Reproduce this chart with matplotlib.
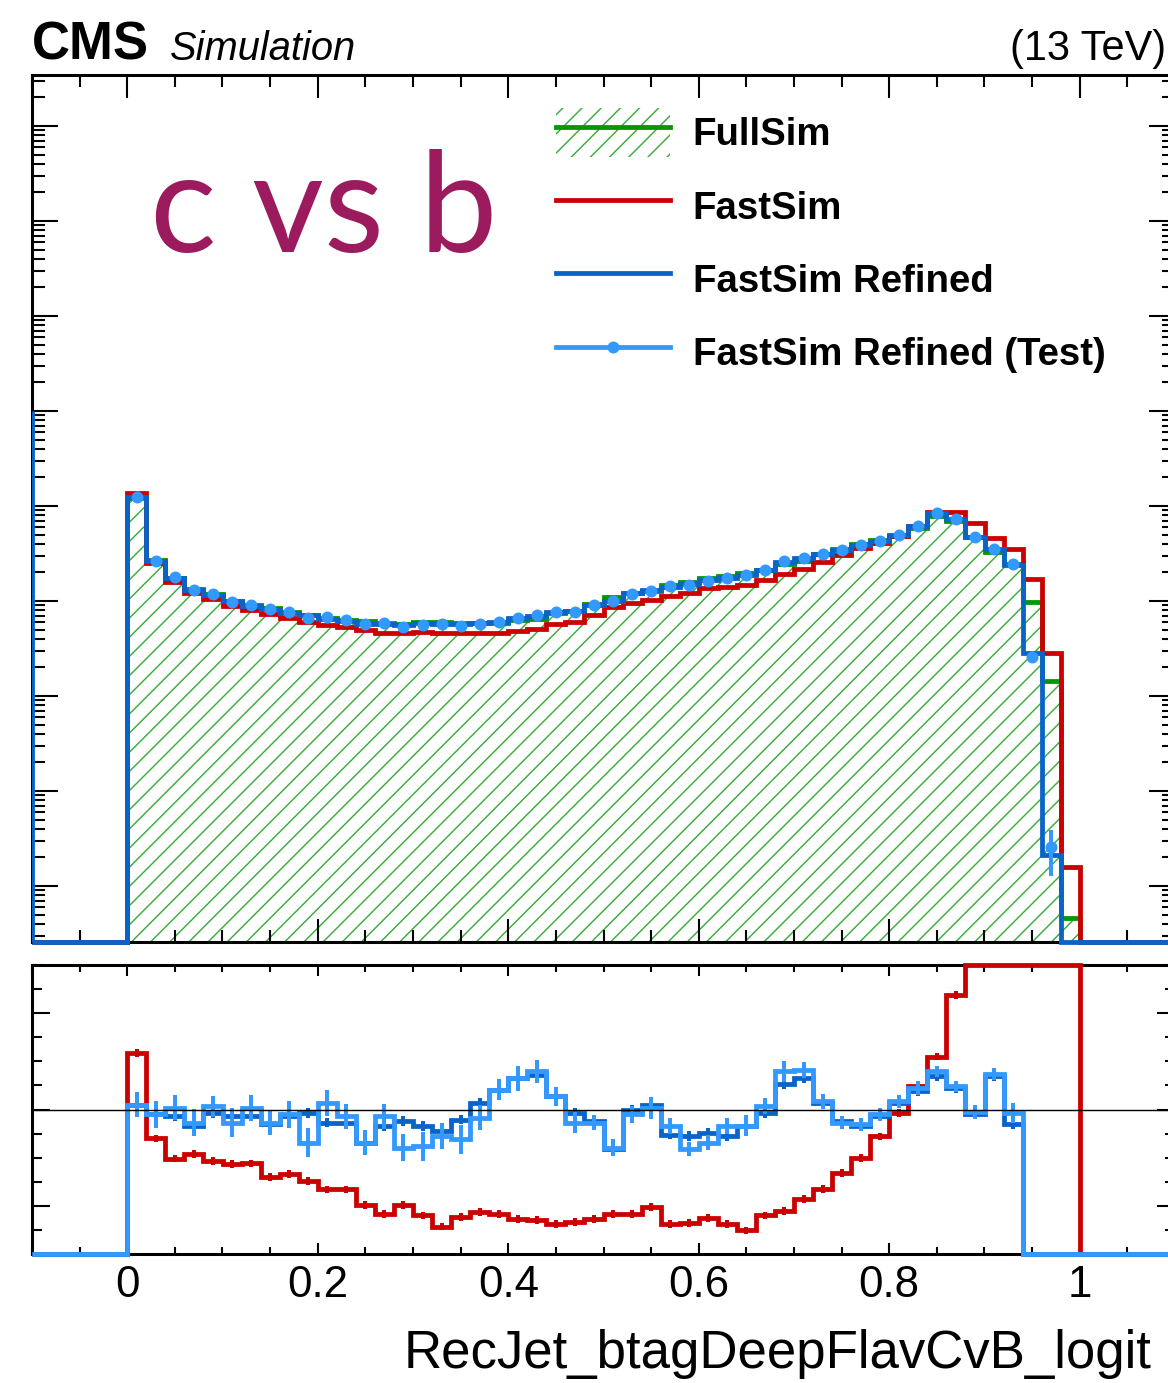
import numpy as np
import matplotlib
matplotlib.use("Agg")
import matplotlib.pyplot as plt
from matplotlib.lines import Line2D
from matplotlib.patches import Patch
from matplotlib.legend_handler import HandlerTuple
from matplotlib.ticker import MultipleLocator, LogLocator, NullFormatter, FuncFormatter

W, H, DPI = 1168, 1383, 115

plt.rcParams["font.family"] = ["Liberation Sans", "DejaVu Sans"]
plt.rcParams["hatch.linewidth"] = 0.9

# ---------------------------------------------------------------- data
# 0.02-wide bins over [0, 1]; the axis runs from -0.1 to 1.1
x_lo, x_hi = -0.1, 1.1
n_pad = 5                     # empty bins on each side of [0, 1]

# FullSim normalised yields per bin
fullsim = [1.229, 0.2676, 0.1763, 0.1338, 0.1176, 0.1007, 0.0905, 0.0848, 0.0766, 0.0712,
           0.0670, 0.0639, 0.0617, 0.0592, 0.0580, 0.0601, 0.0604, 0.0588, 0.0581, 0.0583,
           0.0625, 0.0654, 0.0751, 0.0790, 0.0923, 0.1096, 0.1208, 0.1284, 0.1481, 0.1600,
           0.1754, 0.1829, 0.1966, 0.2130, 0.2433, 0.2650, 0.3101, 0.3510, 0.3981, 0.4354,
           0.4868, 0.5867, 0.7847, 0.6986, 0.4718, 0.3280, 0.2451, 0.0983, 0.0145, 4.64e-5]

# ratios to FullSim
ratio_fastsim = [1.118, 0.940, 0.898, 0.907, 0.893, 0.887, 0.888, 0.860, 0.866, 0.851,
                 0.834, 0.834, 0.802, 0.783, 0.801, 0.780, 0.757, 0.777, 0.787, 0.783,
                 0.773, 0.770, 0.763, 0.766, 0.772, 0.783, 0.783, 0.798, 0.763, 0.764,
                 0.775, 0.763, 0.749, 0.780, 0.790, 0.814, 0.835, 0.868, 0.900, 0.944,
                 0.993, 1.049, 1.110, 1.237, 1.40, 1.39, 1.44, 1.72, 1.97, 3.44]
ratio_refined = [1.010, 0.990, 0.986, 0.966, 0.993, 0.986, 0.986, 0.969, 0.986, 0.993,
                 0.973, 0.973, 0.931, 0.966, 0.976, 0.966, 0.955, 0.979, 1.014, 1.041,
                 1.065, 1.072, 1.027, 0.993, 0.976, 0.918, 1.000, 1.010, 0.948, 0.945,
                 0.952, 0.945, 0.966, 0.993, 1.052, 1.065, 1.014, 0.976, 0.966, 0.986,
                 1.014, 1.038, 1.069, 1.045, 0.990, 1.069, 0.969, 0.288, 0.0146, 0.0]
ratio_test = [1.010, 0.990, 1.004, 0.973, 1.007, 0.973, 1.004, 0.973, 0.990, 0.931,
              1.014, 0.986, 0.931, 0.986, 0.921, 0.924, 0.945, 0.938, 0.983, 1.041,
              1.065, 1.079, 1.027, 0.973, 0.973, 0.921, 0.990, 1.003, 0.966, 0.918,
              0.931, 0.966, 0.966, 1.007, 1.079, 1.082, 1.017, 0.973, 0.969, 0.990,
              1.017, 1.045, 1.079, 1.048, 0.995, 1.074, 0.993, 0.264, 0.0179, 0.0]

# statistical uncertainties on the ratios
err_fastsim = [0.008] * 50
err_refined = [0.010] * 50
err_test = [0.026, 0.028, 0.026, 0.028, 0.022, 0.030, 0.027, 0.026, 0.028, 0.030,
            0.027, 0.026, 0.026, 0.026, 0.028, 0.030, 0.026, 0.030, 0.026, 0.022,
            0.026, 0.024, 0.020, 0.022, 0.016, 0.018, 0.018, 0.023, 0.016, 0.015,
            0.016, 0.016, 0.022, 0.016, 0.022, 0.016, 0.015, 0.014, 0.014, 0.014,
            0.014, 0.014, 0.012, 0.012, 0.014, 0.012, 0.020, 0.030, 0.009, 0.0]

refined_underflow = 10.0

labels = ["FullSim", "FastSim", "FastSim Refined", "FastSim Refined (Test)"]

# ---------------------------------------------------------------- style
c_full = "#009a00"
c_hatch = "#3aac3a"
c_fast = "#cc0000"
c_ref = "#0a64c8"
c_test = "#3399ff"
c_title = "#9b1b5e"

lw_hist = 3.0
ms_test = 7.5


def pad(a):
    return np.concatenate([np.zeros(n_pad), np.asarray(a, float), np.zeros(n_pad)])


edges = np.linspace(x_lo, x_hi, 50 + 2 * n_pad + 1)
centers = 0.5 * (edges[:-1] + edges[1:])

full = pad(fullsim)
r_fast, r_ref, r_test = pad(ratio_fastsim), pad(ratio_refined), pad(ratio_test)
e_fast, e_ref, e_test = pad(err_fastsim), pad(err_refined), pad(err_test)
fast = full * r_fast
ref = full * r_ref
test = full * r_test

ymin, ymax = 10 ** -4.589, 10 ** 4.537
rmin, rmax = 0.7, 1.3

fig = plt.figure(figsize=(W / DPI, H / DPI), dpi=DPI)


def px_box(x0, y0, x1, y1):
    return [x0 / W, 1 - y1 / H, (x1 - x0) / W, (y1 - y0) / H]


ax = fig.add_axes(px_box(32, 75, 1175, 942))
rax = fig.add_axes(px_box(32, 965, 1175, 1254))

for a in (ax, rax):
    for s in a.spines.values():
        s.set_linewidth(1.9)
    a.set_xlim(x_lo, x_hi)
    a.xaxis.set_major_locator(MultipleLocator(0.2))
    a.xaxis.set_minor_locator(MultipleLocator(0.05))

# ---------------------------------------------------------------- main panel
ax.set_yscale("log")
ax.set_ylim(ymin, ymax)
ax.yaxis.set_major_locator(LogLocator(base=10, numticks=30))
ax.yaxis.set_minor_locator(LogLocator(base=10, subs=np.arange(2, 10), numticks=300))
ax.yaxis.set_minor_formatter(NullFormatter())
ax.tick_params(which="both", direction="in", top=True, right=True,
               labelbottom=False, labelleft=False, width=1.3)
ax.tick_params(axis="x", which="major", length=14.4)
ax.tick_params(axis="x", which="minor", length=7.5)
ax.tick_params(axis="y", which="major", length=16.3)
ax.tick_params(axis="y", which="minor", length=8.1)


def floor_log(v):
    return np.maximum(v, ymin)


ax.stairs(floor_log(full), edges, baseline=ymin, fill=True, facecolor="none",
          edgecolor=c_hatch, hatch="//", linewidth=0, zorder=1)
ax.stairs(floor_log(full), edges, baseline=None, color=c_full, lw=lw_hist, zorder=2, clip_on=False)
ax.stairs(floor_log(fast), edges, baseline=None, color=c_fast, lw=lw_hist, zorder=3, clip_on=False)
ax.stairs(floor_log(ref), edges, baseline=None, color=c_ref, lw=lw_hist, zorder=4, clip_on=False)
ax.vlines(edges[0], ymin, refined_underflow, color=c_ref, lw=lw_hist, zorder=4)
m = test > 0
ax.errorbar(centers[m], test[m], yerr=(full * e_test)[m], fmt="o", color=c_test,
            ms=ms_test, elinewidth=2.5, capsize=0, mew=0, zorder=5)

# legend
h_full = (Patch(facecolor="none", edgecolor=c_hatch, hatch="//", lw=0),
          Line2D([], [], color=c_full, lw=lw_hist))
h_fast = Line2D([], [], color=c_fast, lw=lw_hist)
h_ref = Line2D([], [], color=c_ref, lw=lw_hist)
h_test = Line2D([], [], color=c_test, lw=lw_hist, marker="o", ms=ms_test, mew=0)
fs_leg = 24
ax.legend([h_full, h_fast, h_ref, h_test], labels,
          handler_map={tuple: HandlerTuple(ndivide=1, pad=0)},
          loc="upper left", bbox_to_anchor=(556 / W, 1 - 108 / H),
          bbox_transform=fig.transFigure, frameon=False,
          prop={"family": ["Liberation Sans"], "weight": "bold", "size": fs_leg},
          handlelength=2.97, handleheight=1.6, handletextpad=0.6,
          labelspacing=0.63, borderpad=0, borderaxespad=0)

# ---------------------------------------------------------------- ratio panel
rax.set_ylim(rmin, rmax)
rax.yaxis.set_major_locator(MultipleLocator(0.2))
rax.yaxis.set_minor_locator(MultipleLocator(0.05))
rax.tick_params(which="both", direction="in", top=True, right=True,
                labelleft=False, width=1.3)
rax.tick_params(axis="x", which="major", length=7, pad=7)
rax.tick_params(axis="x", which="minor", length=4.4)
rax.tick_params(axis="y", which="major", length=11.3)
rax.tick_params(axis="y", which="minor", length=6.3)
rax.tick_params(axis="x", labelsize=27.5)


def fmt_tick(v, _):
    v = round(v, 2)
    return "0" if v == 0 else f"{v:g}"


rax.xaxis.set_major_formatter(FuncFormatter(fmt_tick))


def clamp(r):
    return np.clip(r, rmin, rmax)


def inside(r):
    return (r > rmin) & (r < rmax)


rax.stairs(clamp(r_fast), edges, baseline=None, color=c_fast, lw=lw_hist, zorder=3, clip_on=False)
mf = inside(r_fast)
rax.errorbar(centers[mf], r_fast[mf], yerr=e_fast[mf], fmt="none", ecolor=c_fast,
             elinewidth=2.5, capsize=0, zorder=3)
rax.stairs(clamp(r_ref), edges, baseline=None, color=c_ref, lw=lw_hist, zorder=4, clip_on=False)
mr = inside(r_ref)
rax.errorbar(centers[mr], r_ref[mr], yerr=e_ref[mr], fmt="none", ecolor=c_ref,
             elinewidth=2.5, capsize=0, zorder=4)
rax.stairs(clamp(r_test), edges, baseline=None, color=c_test, lw=lw_hist, zorder=5, clip_on=False)
mt = inside(r_test)
rax.errorbar(centers[mt], r_test[mt], yerr=e_test[mt], fmt="none", ecolor=c_test,
             elinewidth=2.5, capsize=0, zorder=5)
rax.axhline(1.0, color="black", lw=0.9, zorder=6)

# ---------------------------------------------------------------- texts
fig.text(32 / W, 1 - 60 / H, "CMS", fontsize=33, fontweight="bold", va="baseline")
fig.text(170 / W, 1 - 60 / H, "Simulation", fontsize=25, fontstyle="italic", va="baseline")
fig.text(1010 / W, 1 - 60 / H, "(13 TeV)", fontsize=26, va="baseline")
fig.text(150 / W, 1 - 252 / H, "c vs b", fontsize=87, family=["Lato", "DejaVu Sans"],
         color=c_title, va="baseline")
fig.text(1152 / W, 1 - 1368 / H, "RecJet_btagDeepFlavCvB_logit", fontsize=33,
         ha="right", va="baseline")

fig.savefig("out.png", dpi=DPI)
